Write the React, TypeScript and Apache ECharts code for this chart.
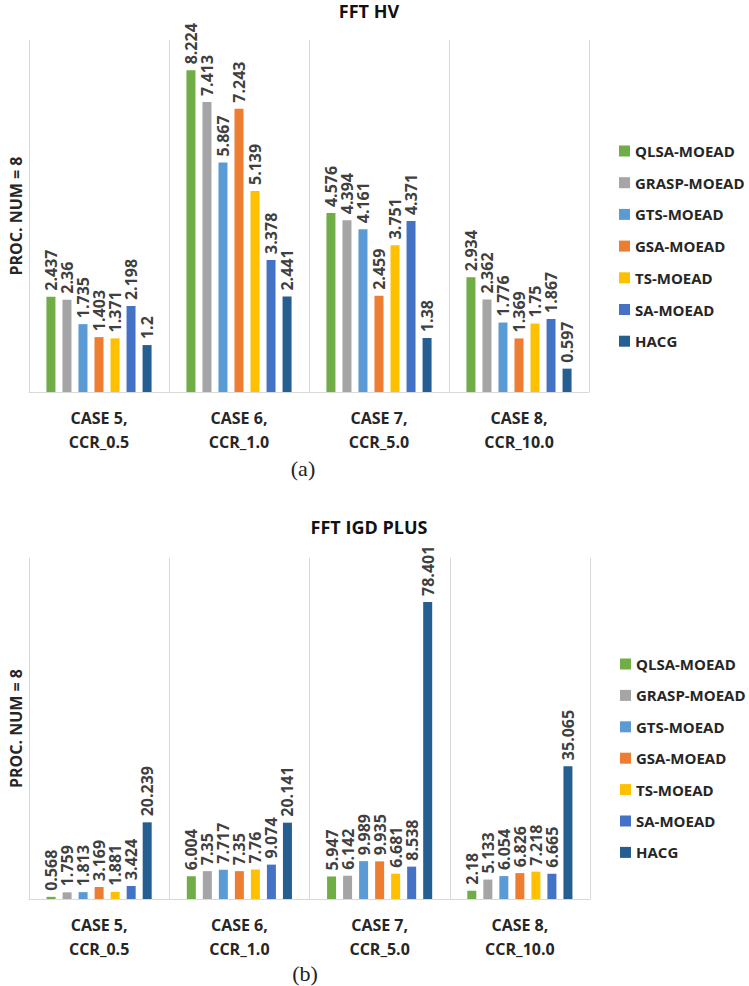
import React, { useEffect, useRef } from "react";
import * as echarts from "echarts";

// Algorithms compared (one bar series each)
const algorithms = [
  "QLSA-MOEAD",
  "GRASP-MOEAD",
  "GTS-MOEAD",
  "GSA-MOEAD",
  "TS-MOEAD",
  "SA-MOEAD",
  "HACG",
];

const colors = ["#70AD47", "#A5A5A5", "#5B9BD5", "#ED7D31", "#FFC000", "#4472C4", "#255E91"];

const cases = ["CASE 5,\nCCR_0.5", "CASE 6,\nCCR_1.0", "CASE 7,\nCCR_5.0", "CASE 8,\nCCR_10.0"];

// FFT hypervolume, one array per algorithm (cases 5..8)
const hvQLSA = [2.437, 8.224, 4.576, 2.934];
const hvGRASP = [2.36, 7.413, 4.394, 2.362];
const hvGTS = [1.735, 5.867, 4.161, 1.776];
const hvGSA = [1.403, 7.243, 2.459, 1.369];
const hvTS = [1.371, 5.139, 3.751, 1.75];
const hvSA = [2.198, 3.378, 4.371, 1.867];
const hvHACG = [1.2, 2.441, 1.38, 0.597];

// FFT IGD+, one array per algorithm (cases 5..8)
const igdQLSA = [0.568, 6.004, 5.947, 2.18];
const igdGRASP = [1.759, 7.35, 6.142, 5.133];
const igdGTS = [1.813, 7.717, 9.989, 6.054];
const igdGSA = [3.169, 7.35, 9.935, 6.826];
const igdTS = [1.881, 7.76, 6.681, 7.218];
const igdSA = [3.424, 9.074, 8.538, 6.665];
const igdHACG = [20.239, 20.141, 78.401, 35.065];

const hvData = [hvQLSA, hvGRASP, hvGTS, hvGSA, hvTS, hvSA, hvHACG];
const igdData = [igdQLSA, igdGRASP, igdGTS, igdGSA, igdTS, igdSA, igdHACG];

const FONT = "'Open Sans', 'Noto Sans', sans-serif";

export default function App() {
  const ref = useRef<HTMLDivElement>(null);

  useEffect(() => {
    document.body.style.margin = "0";
    if (!ref.current) return;
    const chart = echarts.init(ref.current, undefined, { renderer: "svg" });

    const grids = [
      { left: 21, top: 40, width: 568, height: 352 },
      { left: 21, top: 558, width: 569, height: 341 },
    ];

    const xAxis = [0, 1].map((i) => ({
      type: "category",
      gridIndex: i,
      data: cases,
      axisLine: { lineStyle: { color: "#d9d9d9", width: 1 } },
      axisTick: { show: false },
      splitLine: { show: true, lineStyle: { color: "#d9d9d9", width: 1 } },
      axisLabel: {
        margin: 14,
        fontFamily: FONT,
        fontWeight: "bold",
        fontSize: 16,
        lineHeight: 24,
        color: "#262626",
      },
    }));

    const yAxis = [
      { max: 9, gridIndex: 0 },
      { max: 90, gridIndex: 1 },
    ].map((a) => ({
      type: "value",
      gridIndex: a.gridIndex,
      min: 0,
      max: a.max,
      axisLine: { show: false },
      axisTick: { show: false },
      axisLabel: { show: false },
      splitLine: { show: false },
      name: "PROC. NUM = 8",
      nameLocation: "middle",
      nameRotate: 90,
      nameGap: 5,
      nameTextStyle: {
        fontFamily: FONT,
        fontWeight: "bold",
        fontSize: 16,
        color: "#262626",
      },
    }));

    const makeSeries = (data: number[][], gi: number) =>
      algorithms.map((name, k) => ({
        name,
        type: "bar",
        xAxisIndex: gi,
        yAxisIndex: gi,
        data: data[k],
        barWidth: 9,
        barGap: "78%",
        itemStyle: { color: colors[k] },
        label: {
          show: true,
          position: "top",
          rotate: 90,
          align: "left",
          verticalAlign: "middle",
          distance: 6,
          fontFamily: FONT,
          fontWeight: "bold",
          fontSize: 16,
          color: "#404040",
        },
      }));

    const legendBase = {
      data: algorithms,
      orient: "vertical",
      icon: "rect",
      itemWidth: 11,
      itemHeight: 11,
      textStyle: {
        fontFamily: FONT,
        fontWeight: "bold",
        fontSize: 15,
        lineHeight: 16,
        color: "#262626",
      },
    };

    chart.setOption({
      animation: false,
      backgroundColor: "#ffffff",
      color: colors,
      grid: grids,
      xAxis,
      yAxis,
      legend: [
        { ...legendBase, left: 614, top: 138, itemGap: 15.7 },
        { ...legendBase, left: 615, top: 651, itemGap: 15.4 },
      ],
      series: [...makeSeries(hvData, 0), ...makeSeries(igdData, 1)],
      graphic: [
        {
          type: "text",
          x: 369,
          y: 11,
          style: {
            text: "FFT HV",
            align: "center",
            verticalAlign: "middle",
            font: `bold 18px ${FONT}`,
            fill: "#111",
          },
        },
        {
          type: "text",
          x: 369,
          y: 527,
          style: {
            text: "FFT IGD PLUS",
            align: "center",
            verticalAlign: "middle",
            font: `bold 18px ${FONT}`,
            fill: "#111",
          },
        },
        {
          type: "text",
          x: 303,
          y: 468,
          style: {
            text: "(a)",
            align: "center",
            verticalAlign: "middle",
            font: "22px 'Liberation Serif', serif",
            fill: "#222",
          },
        },
        {
          type: "text",
          x: 305,
          y: 973,
          style: {
            text: "(b)",
            align: "center",
            verticalAlign: "middle",
            font: "22px 'Liberation Serif', serif",
            fill: "#222",
          },
        },
      ],
    });

    return () => chart.dispose();
  }, []);

  return <div ref={ref} style={{ width: 749, height: 986 }} />;
}
